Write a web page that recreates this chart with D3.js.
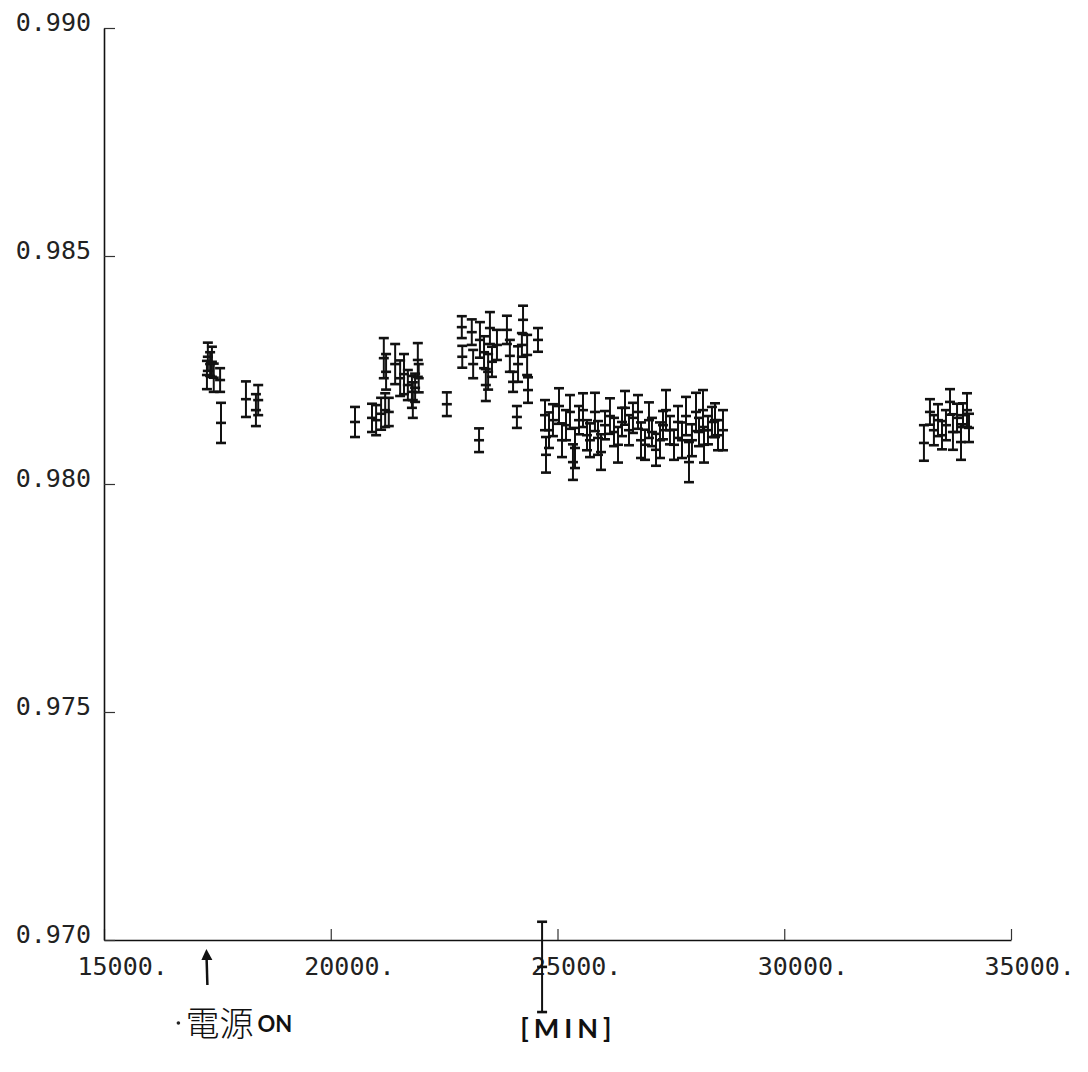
<!DOCTYPE html>
<html>
<head>
<meta charset="utf-8">
<script src="https://d3js.org/d3.v7.min.js"></script>
<style>
  body { margin: 0; background: #fff; }
  svg { display: block; }
</style>
</head>
<body>
<svg id="drawing_region"></svg>
<script>
// elapsed time [min], measured ratio, error (one entry per bar)
const times = [
    17290, 17340, 17380, 17420, 17270, 17560, 17580, 18130, 18400, 18350,
    20535, 20910, 21000, 21110, 21200, 21280, 21170, 21220, 21420, 21530, 21615, 21700, 21790, 21920, 21810, 21860, 21940,
    22560, 22890, 22900, 23110, 23140, 23270, 23290, 23380, 23470, 23510, 23420, 23555, 23665, 23885, 23950, 24020, 24105, 24130, 24240, 24330, 24350, 24570, 24215,
    24660,
    24724, 24746, 24812, 24900, 25033, 25099, 25187, 25275, 25341, 25386, 25474, 25562, 25650, 25716, 25826, 25893, 25959, 26047, 26157, 26246,
    26334, 26422, 26488, 26576, 26664, 26775, 26841, 26929, 27017, 27083, 27172, 27260, 27326, 27392, 27480, 27569, 27657, 27745, 27833, 27899,
    27965, 28054, 28120, 28208, 28230, 28318, 28406, 28473, 28539, 28649,
    33080, 33213, 33300, 33390, 33478, 33566, 33655, 33720, 33810, 33897, 33941, 34030, 34074
];
const ratios = [
    0.98279, 0.98263, 0.98268, 0.98233, 0.98239, 0.98228, 0.98134, 0.98186, 0.98184, 0.98162,
    0.98136, 0.98145, 0.98140, 0.98154, 0.98162, 0.98158, 0.98276, 0.98246, 0.98263, 0.98232, 0.98241, 0.98217, 0.98202, 0.98272, 0.98184, 0.98211, 0.98232,
    0.98175, 0.98344, 0.98279, 0.98333, 0.98263, 0.98096, 0.98316, 0.98289, 0.98246, 0.98342, 0.98217, 0.98268, 0.98305, 0.98338, 0.98281, 0.98224, 0.98147, 0.98263, 0.98360, 0.98283, 0.98206, 0.98316, 0.98305,
    0.96941,
    0.98151, 0.98064, 0.98118, 0.98140, 0.98171, 0.98096, 0.98129, 0.98158, 0.98048, 0.98079, 0.98140, 0.98162, 0.98107, 0.98096, 0.98158, 0.98101, 0.98070, 0.98129, 0.98149, 0.98114,
    0.98086, 0.98136, 0.98167, 0.98118, 0.98145, 0.98158, 0.98096, 0.98086, 0.98140, 0.98114, 0.98075, 0.98096, 0.98129, 0.98162, 0.98118, 0.98086, 0.98136, 0.98096, 0.98149, 0.98048,
    0.98096, 0.98158, 0.98114, 0.98162, 0.98086, 0.98118, 0.98136, 0.98140, 0.98107, 0.98118,
    0.98090, 0.98158, 0.98118, 0.98140, 0.98107, 0.98129, 0.98180, 0.98114, 0.98145, 0.98092, 0.98151, 0.98162, 0.98123
];
const errors = [
    0.00031, 0.00026, 0.00033, 0.00031, 0.00031, 0.00026, 0.00044, 0.00039, 0.00033, 0.00035,
    0.00033, 0.00031, 0.00033, 0.00035, 0.00037, 0.00031, 0.00044, 0.00039, 0.00044, 0.00039, 0.00044, 0.00033, 0.00035, 0.00037, 0.00039, 0.00031, 0.00031,
    0.00026, 0.00024, 0.00024, 0.00028, 0.00031, 0.00026, 0.00039, 0.00035, 0.00039, 0.00035, 0.00035, 0.00033, 0.00033, 0.00031, 0.00035, 0.00022, 0.00024, 0.00039, 0.00031, 0.00044, 0.00028, 0.00026, 0.00026,
    0.00099,
    0.00033, 0.00039, 0.00039, 0.00035, 0.00039, 0.00037, 0.00033, 0.00037, 0.00039, 0.00044, 0.00031, 0.00037, 0.00033, 0.00037, 0.00042, 0.00037, 0.00039, 0.00031, 0.00039, 0.00031,
    0.00039, 0.00031, 0.00037, 0.00033, 0.00033, 0.00037, 0.00039, 0.00033, 0.00039, 0.00031, 0.00035, 0.00039, 0.00031, 0.00044, 0.00031, 0.00033, 0.00035, 0.00039, 0.00042, 0.00044,
    0.00035, 0.00042, 0.00031, 0.00044, 0.00039, 0.00031, 0.00033, 0.00037, 0.00033, 0.00044,
    0.00039, 0.00028, 0.00033, 0.00035, 0.00031, 0.00033, 0.00028, 0.00039, 0.00031, 0.00039, 0.00026, 0.00037, 0.00031
];

const xTicks = [15000, 20000, 25000, 30000, 35000];
const xTickLabels = ['15000.', '20000.', '25000.', '30000.', '35000.'];
const yTicks = [0.970, 0.975, 0.980, 0.985, 0.990];
const yTickLabels = ['0.970', '0.975', '0.980', '0.985', '0.990'];

const unitLabel = '[MIN]';
const noteKanji = '電源';
const noteLatin = 'ON';
const noteTime = 17280;

const data = times.map( (t, i) => ({ t: t, r: ratios[i], e: errors[i] }) );

class ErrorBarPlot {

    constructor( config, data ) {
        this.config = {
            parent: config.parent,
            width: config.width || 1088,
            height: config.height || 1072,
            margin: config.margin || {top: 28, right: 77, bottom: 132, left: 104}
        };
        this.data = data;
        this.init();
    }

    init() {
        let self = this;
        let m = self.config.margin;

        self.svg = d3.select( self.config.parent )
            .attr('width', self.config.width)
            .attr('height', self.config.height);

        self.inner_width = self.config.width - m.left - m.right;
        self.inner_height = self.config.height - m.top - m.bottom;

        self.chart = self.svg.append('g')
            .attr('transform', `translate(${m.left}, ${m.top})`);

        self.xscale = d3.scaleLinear()
            .domain([15000, 35000])
            .range([0, self.inner_width]);

        self.yscale = d3.scaleLinear()
            .domain([0.970, 0.990])
            .range([self.inner_height, 0]);

        self.xaxis = d3.axisBottom( self.xscale )
            .tickValues( xTicks )
            .tickFormat( (d, i) => xTickLabels[i] )
            .tickSizeInner(-11)
            .tickSizeOuter(0)
            .tickPadding(17);

        self.yaxis = d3.axisLeft( self.yscale )
            .tickValues( yTicks )
            .tickFormat( (d, i) => yTickLabels[i] )
            .tickSizeInner(-11)
            .tickSizeOuter(0)
            .tickPadding(13);
    }

    update() {
        let self = this;
        self.render();
    }

    render() {
        let self = this;
        const font = '"DejaVu Sans Mono", monospace';

        let xg = self.chart.append('g')
            .attr('transform', `translate(0, ${self.inner_height})`)
            .call( self.xaxis );
        xg.select('.domain').attr('stroke', '#111').attr('stroke-width', 1.6);
        xg.selectAll('.tick line').attr('stroke', '#333').attr('stroke-width', 1.2);
        xg.selectAll('.tick text')
            .attr('font-family', font)
            .attr('font-size', 25)
            .attr('fill', '#222')
            .attr('text-anchor', 'start')
            .attr('x', -27);

        let yg = self.chart.append('g')
            .call( self.yaxis );
        yg.select('.domain').attr('stroke', '#111').attr('stroke-width', 1.6);
        yg.selectAll('.tick line').attr('stroke', '#333').attr('stroke-width', 1.2);
        yg.selectAll('.tick text')
            .attr('font-family', font)
            .attr('font-size', 25)
            .attr('fill', '#222')
            .attr('dy', '0.08em');

        // error bars
        let bars = self.chart.append('g')
            .attr('stroke', '#111')
            .selectAll('g')
            .data( self.data )
            .join('g')
            .attr('transform', d => `translate(${self.xscale(d.t)}, 0)`);

        bars.append('line')
            .attr('y1', d => self.yscale(d.r + d.e))
            .attr('y2', d => self.yscale(d.r - d.e))
            .attr('stroke-width', 2);

        const cap = 5;
        [ d => d.r + d.e, d => d.r, d => d.r - d.e ].forEach( f => {
            bars.append('line')
                .attr('x1', -cap)
                .attr('x2', cap)
                .attr('y1', d => self.yscale(f(d)))
                .attr('y2', d => self.yscale(f(d)))
                .attr('stroke-width', 2.6);
        });

        // handwritten notes under the axis
        let ax = self.xscale(noteTime);
        let base = self.inner_height;
        self.chart.append('path')
            .attr('d', `M${ax},${base + 45} L${ax - 1},${base + 12}`)
            .attr('stroke', '#111')
            .attr('stroke-width', 2.5)
            .attr('fill', 'none');
        self.chart.append('path')
            .attr('d', `M${ax - 6},${base + 20} L${ax - 1},${base + 9} L${ax + 5},${base + 20} Z`)
            .attr('fill', '#111');

        self.chart.append('circle')
            .attr('cx', ax - 29)
            .attr('cy', base + 83)
            .attr('r', 1.8)
            .attr('fill', '#222');
        self.chart.append('text')
            .attr('x', ax - 22)
            .attr('y', base + 96)
            .attr('font-family', '"Noto Sans CJK JP", sans-serif')
            .attr('font-size', 34)
            .attr('font-weight', 300)
            .attr('fill', '#111')
            .text( noteKanji );
        self.chart.append('text')
            .attr('x', ax + 50)
            .attr('y', base + 92)
            .attr('font-family', 'Lato, sans-serif')
            .attr('font-size', 22)
            .attr('font-weight', 'bold')
            .attr('fill', '#111')
            .text( noteLatin );

        self.chart.append('text')
            .attr('x', self.xscale(24400) - 10)
            .attr('y', base + 98)
            .attr('font-family', 'Lato, sans-serif')
            .attr('font-size', 27)
            .attr('font-weight', 'bold')
            .attr('letter-spacing', 5)
            .attr('fill', '#111')
            .text( unitLabel );
    }
}

const plot = new ErrorBarPlot( { parent: '#drawing_region', width: 1088, height: 1072 }, data );
plot.update();
</script>
</body>
</html>
